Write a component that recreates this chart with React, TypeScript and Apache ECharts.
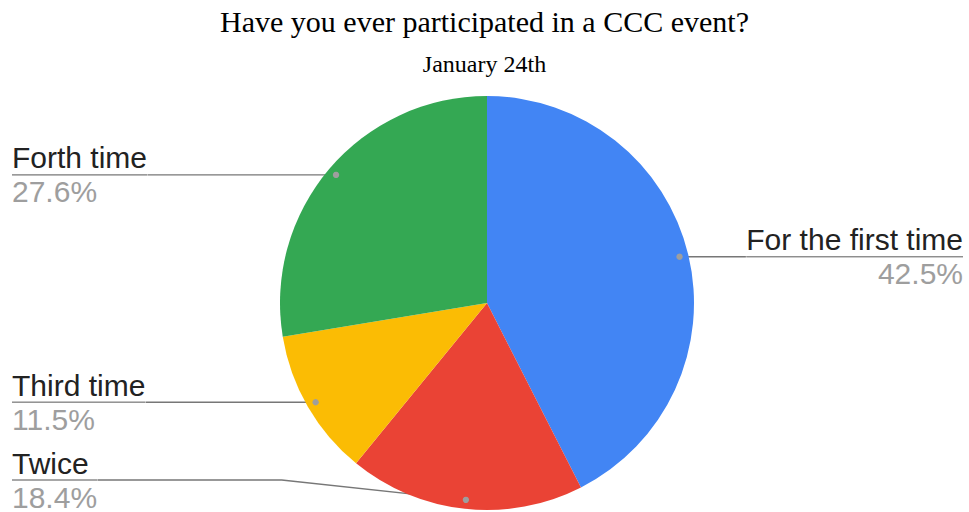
import React, { useEffect, useRef } from 'react';
import * as echarts from 'echarts';

const categories = ['For the first time', 'Twice', 'Third time', 'Forth time'];
const shares = [42.5, 18.4, 11.5, 27.6];
const colors = ['#4285F4', '#EA4335', '#FBBC04', '#34A853'];
const titleText = 'Have you ever participated in a CCC event?';
const subtitleText = 'January 24th';

const W = 969;
const H = 512;
const CX = 487;
const CY = 303;
const R = 207;
const DOT_INSET = 9;

export default function App() {
  const ref = useRef<HTMLDivElement>(null);
  useEffect(() => {
    const chart = echarts.init(ref.current!, null, { renderer: 'svg' });
    const dots: number[][] = [];
    const option: any = {
      animation: false,
      backgroundColor: '#ffffff',
      title: [
        {
          text: titleText,
          left: 'center',
          top: 1,
          textStyle: { fontFamily: 'Liberation Serif', fontSize: 30, fontWeight: 'normal', color: '#000' },
        },
        {
          text: subtitleText,
          left: 'center',
          top: 47,
          textStyle: { fontFamily: 'Liberation Serif', fontSize: 24, fontWeight: 'normal', color: '#000' },
        },
      ],
      series: [
        {
          type: 'pie',
          center: [CX, CY],
          radius: R,
          startAngle: 90,
          clockwise: true,
          avoidLabelOverlap: false,
          data: categories.map((name, i) => ({
            name,
            value: shares[i],
            itemStyle: { color: colors[i] },
            label: { edgeDistance: i === 0 ? 6 : 12 },
          })),
          label: {
            show: true,
            position: 'outer',
            alignTo: 'edge',
            edgeDistance: 12,
            distanceToLabelLine: 0,
            formatter: (p: any) => `{n|${p.name}}\n{hr|}\n{p|${p.percent.toFixed(1)}%}`,
            rich: {
              n: { fontFamily: 'Liberation Sans', fontSize: 30, color: '#222', lineHeight: 34 },
              hr: { width: '100%', height: 0, lineHeight: 0, borderWidth: 0.8, borderColor: '#777' },
              p: { fontFamily: 'Liberation Sans', fontSize: 30, color: '#9e9e9e', lineHeight: 34 },
            },
          },
          labelLine: { show: true, length: 0, length2: 10, lineStyle: { color: '#777', width: 1.4 } },
          labelLayout: (params: any) => {
            const pts = params.labelLinePoints;
            const rect = params.labelRect;
            if (!pts || !rect) return {};
            const p0 = pts[0];
            const dx = p0[0] - CX;
            const dy = p0[1] - CY;
            const d = Math.hypot(dx, dy) || 1;
            const dot = [CX + (dx / d) * (R - DOT_INSET), CY + (dy / d) * (R - DOT_INSET)];
            dots[params.dataIndex] = dot;
            const isLeft = p0[0] < CX;
            const edgeX = isLeft ? rect.x + rect.width : rect.x;
            const h = rect.height;
            const y = Math.min(Math.max(dot[1], h / 2), H - h / 2);
            return {
              y,
              labelLinePoints: [dot, [(dot[0] + edgeX) / 2, y], [edgeX, y]],
            };
          },
        },
      ],
    };
    chart.setOption(option);
    const circles = dots
      .filter((d) => !!d)
      .map((d) => ({
        type: 'circle',
        shape: { cx: d[0], cy: d[1], r: 3.2 },
        style: { fill: '#9e9e9e' },
        z: 100,
      }));
    chart.setOption({ graphic: { elements: circles } });
    return () => {
      chart.dispose();
    };
  }, []);
  return (
    <div
      ref={ref}
      style={{ position: 'absolute', left: 0, top: 0, width: W, height: H, background: '#fff' }}
    />
  );
}
